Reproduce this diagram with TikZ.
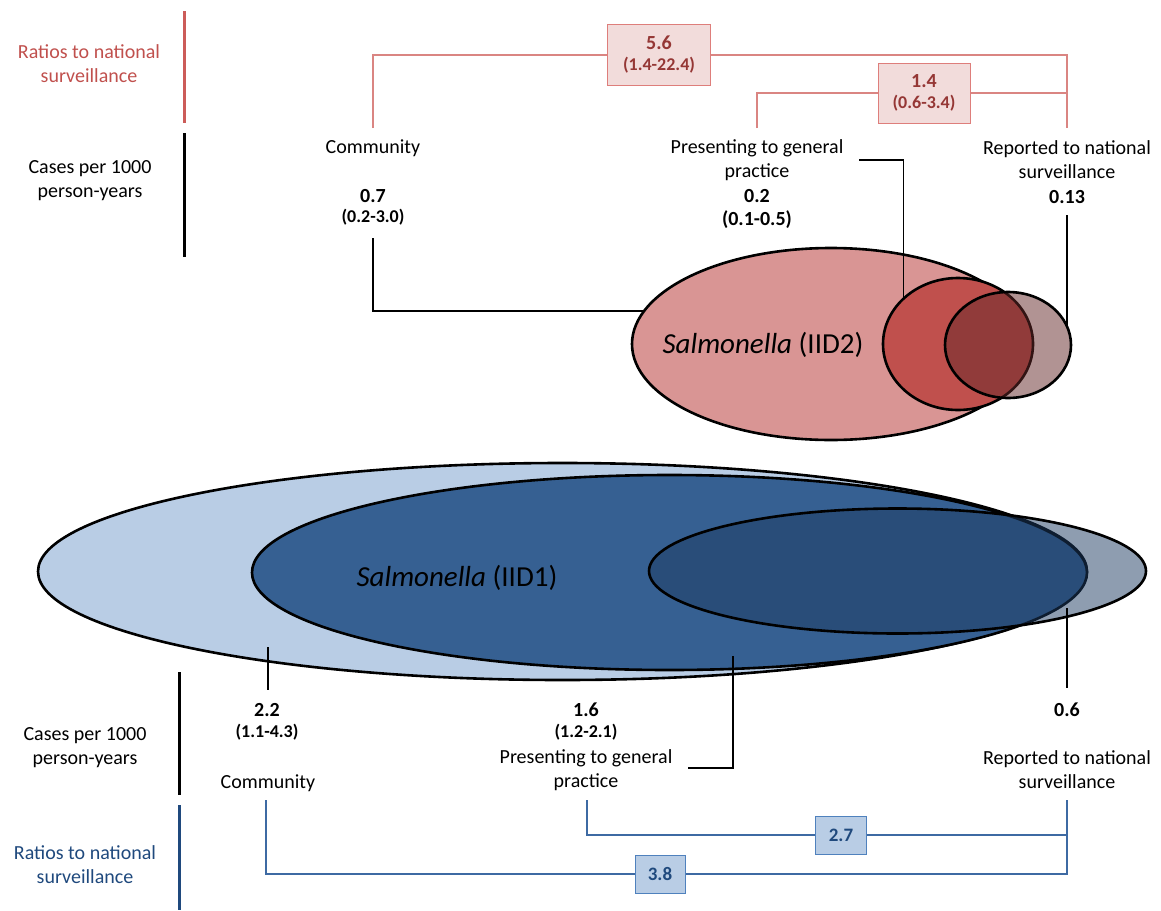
\documentclass[tikz,border=0pt]{standalone}
\usepackage{fontspec}
\setmainfont{Carlito}
\usetikzlibrary{shapes.geometric}

\definecolor{redbar}{HTML}{CC5C59}
\definecolor{redtxt}{HTML}{C0504D}
\definecolor{redln}{HTML}{DA8582}
\definecolor{redboxln}{HTML}{DE7E7B}
\definecolor{redboxfill}{HTML}{F2DCDB}
\definecolor{redboxtxt}{HTML}{953735}
\definecolor{bigredfill}{HTML}{D99594}
\definecolor{medredfill}{HTML}{C0504D}
\definecolor{smallredfill}{HTML}{642828}
\definecolor{bluebar}{HTML}{1F497D}
\definecolor{bluetxt}{HTML}{1F497D}
\definecolor{blueln}{HTML}{3E6AA3}
\definecolor{blueboxln}{HTML}{4F81BD}
\definecolor{blueboxfill}{HTML}{B9CDE5}
\definecolor{lightbluefill}{HTML}{B9CDE5}
\definecolor{darkbluefill}{HTML}{366092}
\definecolor{greybluefill}{HTML}{1D3B61}

\tikzset{
  lbl/.style={font=\fontsize{20}{24}\selectfont, align=center, inner sep=0pt},
  numlbl/.style={font=\bfseries\fontsize{20}{24}\selectfont, inner sep=0pt},
  rnglbl/.style={font=\bfseries\fontsize{18}{22}\selectfont, inner sep=0pt},
  title/.style={font=\fontsize{29}{34}\selectfont, inner sep=0pt},
  oval/.style={ellipse, draw=black, inner sep=0pt, line width=2.6pt},
  redratio/.style={draw=redboxln, fill=redboxfill, text=redboxtxt, line width=1pt,
    align=center, inner sep=0pt, font=\bfseries\fontsize{18}{21}\selectfont},
  blueratio/.style={draw=blueboxln, fill=blueboxfill, text=bluetxt, line width=1pt,
    inner sep=0pt, font=\bfseries\fontsize{19}{22}\selectfont},
  redbracket/.style={draw=redln, line width=1.2pt},
  bluebracket/.style={draw=blueln, line width=1.2pt},
  conn/.style={draw=black, line width=1.6pt},
  sidebar/.style={line width=3pt},
}

\begin{document}
\begin{tikzpicture}[x=1pt,y=-1pt]
\useasboundingbox (0,0) rectangle (1161,910);

% ---------- left-hand row captions ----------
\coordinate (rbarT) at (184,11);  \coordinate (rbarB) at (184,123);
\coordinate (kbarT) at (184,133); \coordinate (kbarB) at (184,257);
\draw[sidebar, redbar] (rbarT) -- (rbarB);
\draw[sidebar, black] (kbarT) -- (kbarB);
\node[lbl, text=redtxt] (ratioTop) at (89,64) {Ratios to national\\surveillance};
\node[lbl] (casesTop) at (90,181) {Cases per 1000\\person-years};

\coordinate (kbar2T) at (179,672); \coordinate (kbar2B) at (179,795);
\coordinate (bbarT) at (179,805);  \coordinate (bbarB) at (179,910);
\draw[sidebar, black] (kbar2T) -- (kbar2B);
\draw[sidebar, bluebar] (bbarT) -- (bbarB);
\node[lbl] (casesBot) at (85,748) {Cases per 1000\\person-years};
\node[lbl, text=bluetxt] (ratioBot) at (85,865) {Ratios to national\\surveillance};

% ---------- IID2: red ovals ----------
\node[oval, fill=bigredfill, minimum width=398pt, minimum height=192pt] (bigred) at (831,344) {};
\node[oval, fill=medredfill, minimum width=150pt, minimum height=132pt] (medred) at (958,344) {};
\node[oval, fill=smallredfill, fill opacity=0.5, minimum width=126pt, minimum height=106pt] (smallred) at (1008,345) {};
\node[title] (iid2) at (763,345) {\textit{Salmonella} (IID2)};

% top labels
\node[lbl] (commTop) at (373,148) {Community};
\node[numlbl] (v07) at (373,196) {0.7};
\node[rnglbl] (r07) at (373,217) {(0.2-3.0)};
\node[lbl] (gpTop) at (757,160) {Presenting to general\\practice};
\node[numlbl] (v02) at (757,196) {0.2};
\node[numlbl] (r02) at (757,220) {(0.1-0.5)};
\node[lbl] (natTop) at (1067,160) {Reported to national\\surveillance};
\node[numlbl] (v013) at (1067,197) {0.13};

% black leaders into the red ovals
\coordinate (commLead) at (373,238);
\coordinate (gpLead) at (859,160);
\coordinate (natLead) at (1067,215);
\draw[conn] (commLead) |- (bigred.170);
\draw[conn] (gpLead) -| (medred.139);
\draw[conn] (natLead) -- (natLead |- smallred.18);

% red ratio brackets
\node[redratio, minimum width=103pt, minimum height=61pt] (r56) at (659,55) {{\fontsize{20}{22}\selectfont 5.6}\\(1.4-22.4)};
\node[redratio, minimum width=92pt, minimum height=60pt] (r14) at (924,93) {{\fontsize{20}{22}\selectfont 1.4}\\(0.6-3.4)};
\coordinate (commTick) at (373,128);
\coordinate (gpTick) at (757,128);
\coordinate (natTick) at (1067,128);
\draw[redbracket] (commTick) |- (r56) -| (natTick);
\draw[redbracket] (gpTick) |- (r14) -| (natTick);

% ---------- IID1: blue ovals ----------
\node[oval, fill=lightbluefill, minimum width=1049pt, minimum height=217pt] (bigblue) at (562.5,571.5) {};
\node[oval, fill=darkbluefill, minimum width=835pt, minimum height=195pt] (medblue) at (669.5,572.5) {};
\node[oval, fill=greybluefill, fill opacity=0.5, minimum width=497pt, minimum height=125pt] (smallblue) at (897.5,571) {};
\node[title] (iid1) at (457,578) {\textit{Salmonella} (IID1)};

% bottom labels
\node[numlbl] (v22) at (267,710) {2.2};
\node[rnglbl] (r22) at (267,732) {(1.1-4.3)};
\node[lbl] (commBot) at (268,783) {Community};
\node[numlbl] (v16) at (586,710) {1.6};
\node[rnglbl] (r16) at (586,732) {(1.2-2.1)};
\node[lbl] (gpBot) at (586,770) {Presenting to general\\practice};
\node[numlbl] (v06) at (1067,710) {0.6};
\node[lbl] (natBot) at (1067,770) {Reported to national\\surveillance};

% black leaders out of the blue ovals
\coordinate (commIn) at (268,647);  \coordinate (commOut) at (268,690);
\coordinate (gpIn) at (733,656);    \coordinate (gpOut) at (688,768);
\coordinate (natIn) at (1067,608);  \coordinate (natOut) at (1067,688);
\draw[conn] (commIn) -- (commOut);
\draw[conn] (gpIn) |- (gpOut);
\draw[conn] (natIn) -- (natOut);

% blue ratio brackets
\node[blueratio, minimum width=51pt, minimum height=38pt] (b27) at (841,835) {2.7};
\node[blueratio, minimum width=50pt, minimum height=38pt] (b38) at (660,874) {3.8};
\coordinate (commBTick) at (266,800);
\coordinate (gpBTick) at (587,800);
\coordinate (natBTick) at (1067,800);
\draw[bluebracket] (commBTick) |- (b38) -| (natBTick);
\draw[bluebracket] (gpBTick) |- (b27) -| (natBTick);
\end{tikzpicture}
\end{document}
